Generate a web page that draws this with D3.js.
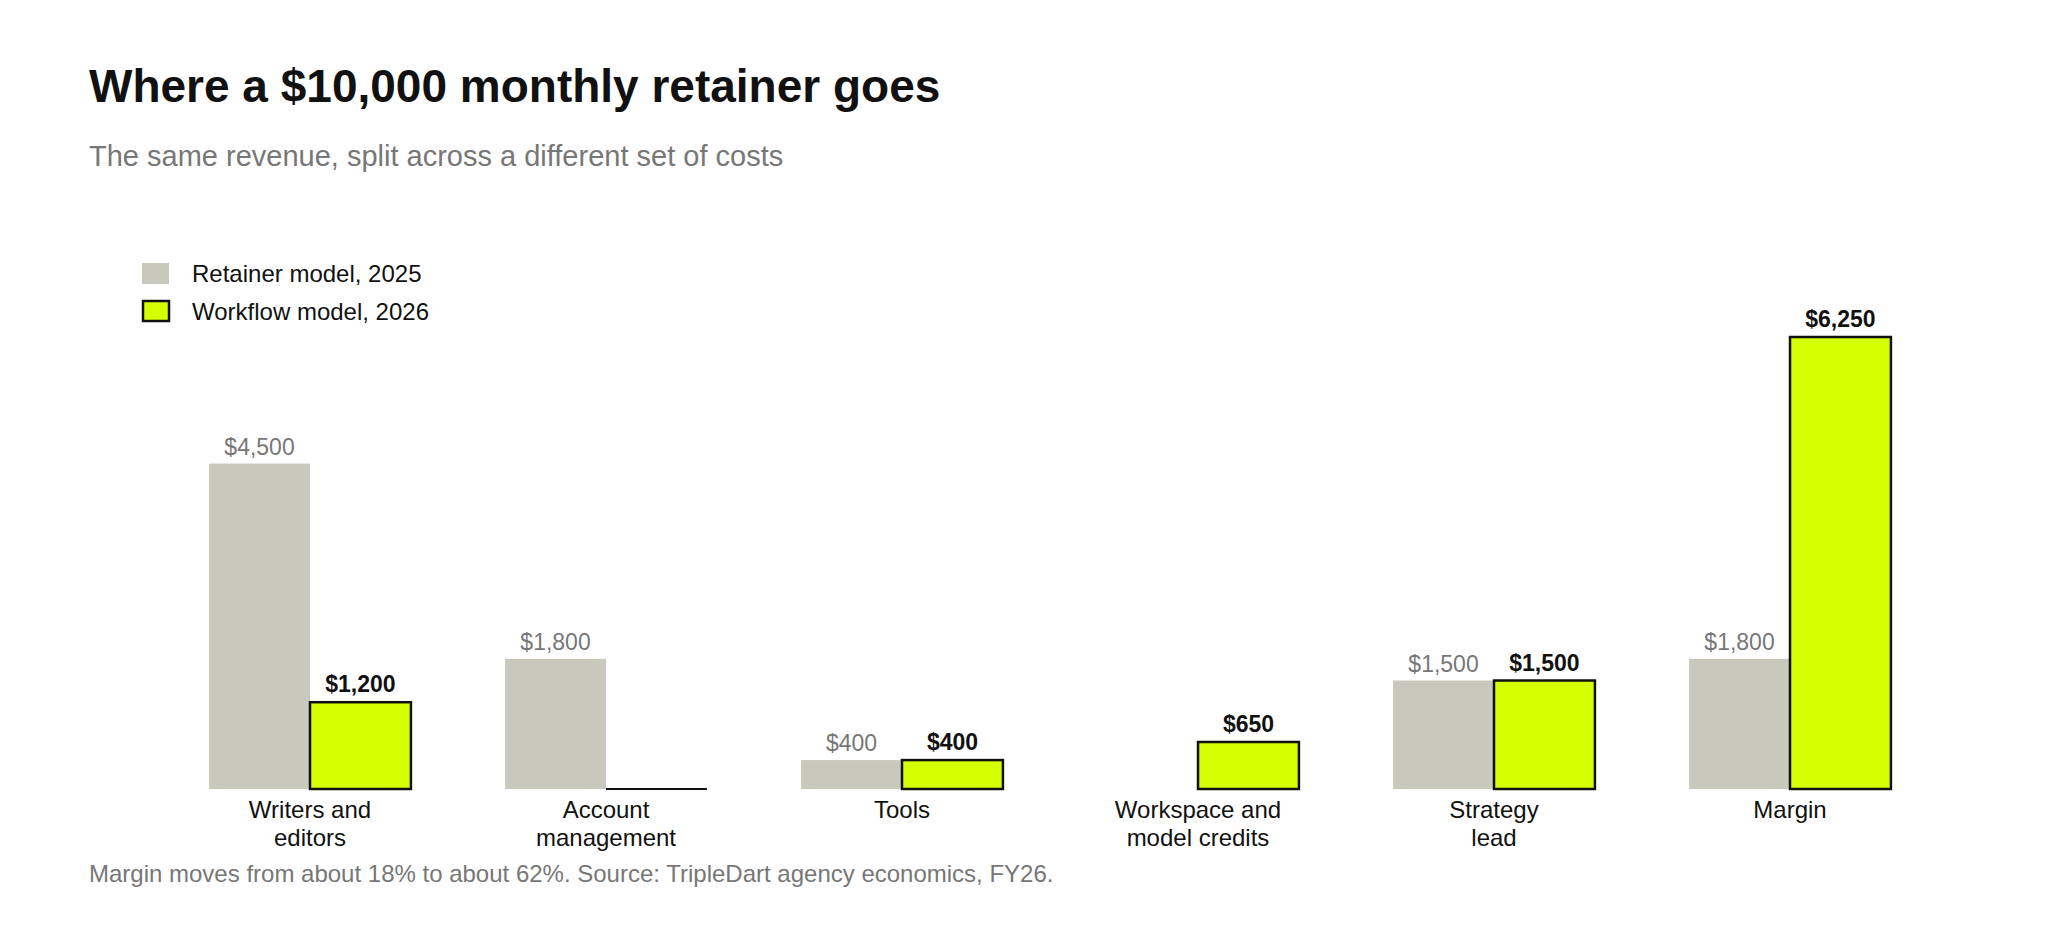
<!DOCTYPE html>
<html>
<head>
<meta charset="utf-8">
<script src="https://cdn.jsdelivr.net/npm/d3@7"></script>
<style>
  body { margin: 0; background: #fff; }
  svg { font-family: "Liberation Sans", Arial, sans-serif; }
</style>
</head>
<body>
<svg id="chart" width="2047" height="938"></svg>
<script>
// chart data
var categories = ["Writers and\neditors", "Account\nmanagement", "Tools", "Workspace and\nmodel credits", "Strategy\nlead", "Margin"];
var retainer2025 = [4500, 1800, 400, 0, 1500, 1800];
var workflow2026 = [1200, 0, 400, 650, 1500, 6250];
var seriesNames = ["Retainer model, 2025", "Workflow model, 2026"];

var svg = d3.select("#chart");
var baseY = 789;

// x positions: one band per category, two bars inside
var x = d3.scaleBand().domain(d3.range(categories.length)).range([162, 162 + 296 * 6]).paddingInner(0.318).paddingOuter(0.159);
var xs = d3.scaleBand().domain([0, 1]).range([0, x.bandwidth()]);
var y = d3.scaleLinear().domain([0, 6250]).range([baseY, 337]);

var fmt = d3.format("$,");

// title + subtitle
svg.append("text").attr("x", 89).attr("y", 102).attr("font-size", 46).attr("font-weight", "bold").attr("fill", "#111")
  .text("Where a $10,000 monthly retainer goes");
svg.append("text").attr("x", 89).attr("y", 166).attr("font-size", 29).attr("fill", "#777")
  .text("The same revenue, split across a different set of costs");

// legend
var legend = svg.append("g");
legend.append("rect").attr("x", 142).attr("y", 263).attr("width", 27).attr("height", 21).attr("fill", "#c8c8bc");
legend.append("rect").attr("x", 143).attr("y", 301).attr("width", 26).attr("height", 20).attr("fill", "#d4ff00").attr("stroke", "#111").attr("stroke-width", 2.5);
legend.selectAll("text.lg").data(seriesNames).enter().append("text")
  .attr("x", 192).attr("y", (d, i) => 282 + i * 38).attr("font-size", 24).attr("fill", "#111").text(d => d);

var groups = svg.selectAll("g.grp").data(categories).enter().append("g")
  .attr("transform", (d, i) => "translate(" + x(i) + ",0)");

// retainer bars
groups.append("rect")
  .attr("x", xs(0)).attr("width", xs.bandwidth())
  .attr("y", (d, i) => y(retainer2025[i])).attr("height", (d, i) => baseY - y(retainer2025[i]))
  .attr("fill", "#c8c8bc");

// workflow bars
groups.append("rect")
  .attr("x", xs(1)).attr("width", xs.bandwidth())
  .attr("y", (d, i) => y(workflow2026[i])).attr("height", (d, i) => baseY - y(workflow2026[i]))
  .attr("fill", "#d4ff00").attr("stroke", "#111").attr("stroke-width", 2.5);

// zero-height workflow bars still show as a flat line
groups.filter((d, i) => workflow2026[i] === 0).append("line")
  .attr("x1", xs(1)).attr("x2", xs(1) + xs.bandwidth())
  .attr("y1", baseY).attr("y2", baseY)
  .attr("stroke", "#111").attr("stroke-width", 2);

// value labels
groups.filter((d, i) => retainer2025[i] > 0).append("text")
  .attr("x", xs(0) + xs.bandwidth() / 2)
  .attr("y", (d) => y(retainer2025[categories.indexOf(d)]) - 9)
  .attr("text-anchor", "middle").attr("font-size", 23).attr("fill", "#777")
  .text(d => fmt(retainer2025[categories.indexOf(d)]));
groups.filter((d, i) => workflow2026[i] > 0).append("text")
  .attr("x", xs(1) + xs.bandwidth() / 2)
  .attr("y", (d) => y(workflow2026[categories.indexOf(d)]) - 10)
  .attr("text-anchor", "middle").attr("font-size", 23).attr("font-weight", "bold").attr("fill", "#111")
  .text(d => fmt(workflow2026[categories.indexOf(d)]));

// category labels
groups.append("text")
  .attr("text-anchor", "middle").attr("font-size", 24).attr("fill", "#111")
  .selectAll("tspan").data(d => d.split("\n")).enter().append("tspan")
  .attr("x", x.bandwidth() / 2).attr("y", (d, j) => 818 + j * 28).text(d => d);

// footnote
svg.append("text").attr("x", 89).attr("y", 882).attr("font-size", 24).attr("fill", "#777")
  .text("Margin moves from about 18% to about 62%. Source: TripleDart agency economics, FY26.");
</script>
</body>
</html>
